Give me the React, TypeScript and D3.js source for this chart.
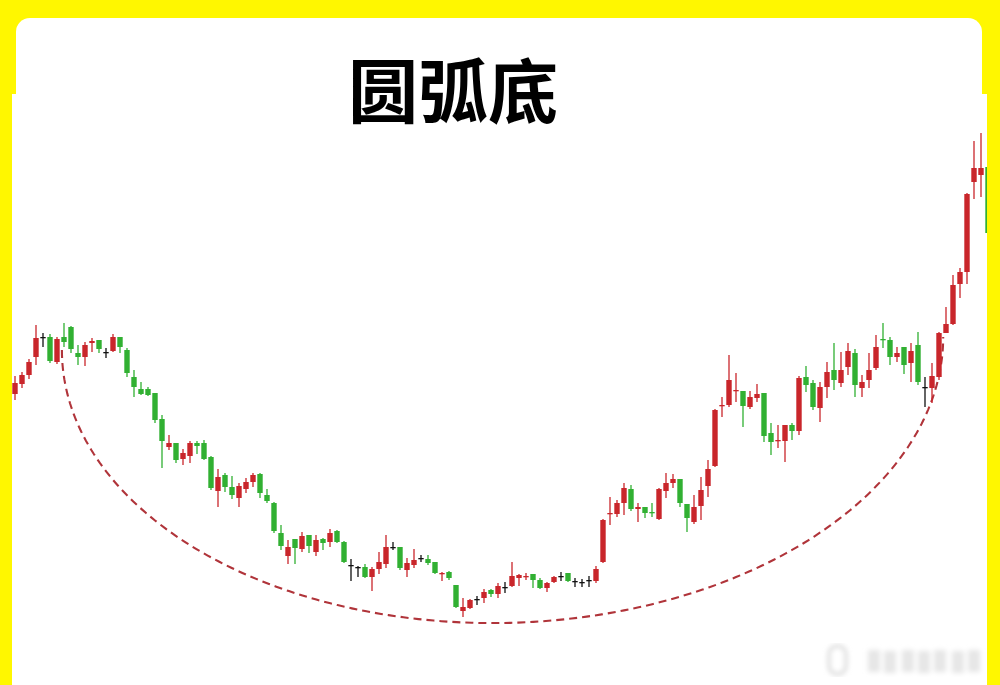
import React, { useEffect, useRef } from "react";
import * as d3 from "d3";

// [open, high, low, close] per session
const candles: [number, number, number, number][] = [
  [30.6, 32.4, 30.0, 31.7], [31.6, 32.8, 31.2, 32.5], [32.5, 34.1, 32.1, 33.8], [34.3, 37.5, 33.5, 36.2],
  [36.3, 36.7, 35.3, 36.3], [36.3, 36.6, 33.7, 33.9], [33.8, 36.3, 33.6, 36.1], [36.3, 37.7, 35.3, 35.8],
  [37.3, 37.4, 34.7, 35.1], [34.7, 35.5, 33.5, 34.3], [34.3, 35.8, 33.4, 35.5], [35.7, 36.2, 34.8, 35.9],
  [36.0, 36.0, 34.7, 35.1], [34.8, 35.2, 34.2, 34.8], [34.9, 36.6, 34.8, 36.3], [36.3, 36.3, 34.7, 35.3],
  [35.0, 35.2, 32.3, 32.7], [32.3, 33.0, 30.3, 31.3], [31.1, 31.8, 30.5, 30.6], [31.1, 31.3, 30.4, 30.5],
  [30.7, 30.7, 27.7, 28.0], [28.1, 28.5, 23.2, 25.9], [25.3, 26.5, 25.0, 25.7], [25.7, 25.7, 23.7, 24.0],
  [24.1, 25.1, 23.5, 24.7], [24.4, 25.9, 23.7, 25.7], [25.7, 25.9, 24.6, 25.4], [25.7, 26.0, 24.0, 24.1],
  [24.3, 24.4, 21.0, 21.2], [20.9, 23.1, 19.3, 22.3], [22.5, 22.7, 20.8, 21.3], [21.3, 22.4, 20.1, 20.5],
  [20.2, 21.7, 19.3, 21.4], [21.1, 22.2, 20.7, 21.8], [21.8, 22.7, 21.3, 22.5], [22.6, 22.7, 20.2, 20.7],
  [20.5, 21.1, 19.7, 19.9], [19.7, 19.8, 16.7, 16.9], [16.7, 17.5, 15.0, 15.4], [14.4, 16.0, 13.6, 15.3],
  [16.1, 16.1, 13.6, 15.2], [15.1, 16.8, 14.8, 16.4], [16.5, 16.5, 14.7, 15.4], [14.8, 16.5, 14.4, 16.0],
  [16.1, 16.2, 15.0, 15.7], [15.8, 17.1, 15.3, 16.7], [16.9, 17.0, 15.7, 15.8], [15.8, 15.9, 13.7, 13.8],
  [13.5, 14.1, 11.9, 13.5], [13.3, 13.4, 12.3, 13.3], [13.3, 13.6, 12.2, 12.3], [12.3, 13.3, 10.9, 13.1],
  [13.1, 14.8, 12.6, 13.8], [13.6, 16.5, 13.2, 15.3], [15.3, 15.8, 15.0, 15.3], [15.3, 15.3, 13.0, 13.2],
  [13.0, 14.2, 12.3, 13.7], [13.5, 15.1, 13.2, 14.0], [14.2, 14.5, 13.8, 14.2], [14.1, 14.5, 13.5, 13.7],
  [13.8, 13.8, 12.6, 12.7], [12.6, 12.8, 11.9, 12.7], [12.8, 12.9, 12.0, 12.2], [11.5, 11.5, 9.2, 9.3],
  [8.9, 10.2, 8.3, 9.3], [9.2, 10.1, 9.1, 10.0], [10.1, 10.4, 9.5, 10.1], [10.2, 11.1, 9.7, 10.8],
  [11.0, 11.1, 10.3, 10.6], [10.6, 11.7, 10.2, 11.4], [11.3, 11.8, 10.7, 11.3], [11.4, 13.8, 11.3, 12.4],
  [12.2, 12.6, 11.4, 12.5], [12.3, 12.7, 12.0, 12.4], [12.6, 12.6, 11.2, 12.0], [12.0, 12.2, 11.1, 11.2],
  [11.2, 11.8, 10.8, 11.7], [11.8, 12.4, 11.7, 12.3], [12.4, 12.8, 11.9, 12.4], [12.7, 12.7, 11.8, 11.9],
  [11.9, 12.2, 11.3, 11.9], [11.8, 12.1, 11.3, 11.8], [12.0, 12.4, 11.3, 12.0], [11.9, 13.4, 11.7, 13.1],
  [13.8, 18.1, 13.7, 18.0], [18.6, 20.3, 17.5, 18.7], [18.6, 20.0, 18.3, 19.7], [19.7, 21.7, 18.5, 21.2],
  [21.1, 21.5, 18.9, 19.1], [19.1, 19.7, 17.8, 19.3], [19.3, 19.3, 18.2, 18.7], [18.8, 19.7, 18.3, 18.7],
  [18.1, 21.2, 18.0, 21.1], [20.9, 22.7, 20.2, 21.7], [21.7, 22.6, 21.2, 22.1], [22.1, 22.1, 19.3, 19.7],
  [19.6, 19.6, 16.8, 18.2], [17.8, 20.5, 17.6, 19.3], [19.4, 22.3, 18.0, 21.0], [21.4, 24.0, 20.3, 23.1],
  [23.4, 29.1, 23.3, 29.0], [29.4, 30.3, 28.3, 29.5], [29.5, 34.5, 29.3, 32.0], [30.9, 32.7, 29.8, 31.0],
  [30.9, 30.9, 27.3, 29.4], [29.3, 30.9, 29.1, 30.3], [30.2, 31.6, 29.8, 30.6], [30.7, 30.7, 25.8, 26.4],
  [26.7, 27.7, 24.5, 25.8], [25.9, 27.5, 25.2, 26.0], [25.9, 27.5, 23.8, 27.5], [27.5, 27.7, 26.0, 26.9],
  [26.9, 32.4, 26.5, 32.2], [32.3, 33.4, 30.8, 31.5], [31.7, 32.0, 29.0, 29.3], [29.2, 31.8, 27.8, 31.3],
  [31.3, 33.8, 30.2, 32.8], [33.0, 35.7, 31.0, 32.0], [31.7, 34.8, 31.3, 33.0], [33.3, 35.7, 32.5, 34.9],
  [34.7, 35.1, 30.3, 31.5], [31.2, 32.5, 30.3, 31.8], [32.0, 34.7, 31.2, 33.0], [33.2, 36.5, 33.0, 35.3],
  [36.1, 37.7, 35.2, 36.0], [36.0, 36.3, 33.5, 34.3], [34.3, 35.3, 33.8, 34.7], [35.3, 35.3, 32.6, 33.5],
  [33.7, 35.7, 31.8, 34.9], [35.5, 36.8, 31.5, 31.8], [31.3, 32.3, 29.3, 31.3], [31.2, 33.7, 29.7, 32.4],
  [32.3, 36.8, 32.0, 36.7], [36.7, 39.3, 36.7, 37.6], [37.6, 42.5, 37.5, 41.5], [41.6, 43.2, 40.2, 42.8],
  [42.8, 50.7, 41.6, 50.6], [51.8, 55.9, 50.1, 53.2], [52.5, 56.7, 50.3, 53.2], [53.3, 53.3, 46.7, 46.7],
];

// dashed arc: left end, right end (session index, price) and lowest price
const arcLeft: [number, number] = [6.7, 35.0];
const arcRight: [number, number] = [132.6, 36.3];
const arcBottom = 7.7;

const title = "圆弧底";

const UP = "#c9262b";
const DOWN = "#31b032";
const FLAT = "#111111";

const App: React.FC = () => {
  const svgRef = useRef<SVGSVGElement>(null);
  const width = 1000;
  const height = 685;

  useEffect(() => {
    if (!svgRef.current) return;
    const svg = d3.select(svgRef.current);
    svg.selectAll("*").remove();

    const xScale = d3.scaleLinear().domain([0, candles.length - 1]).range([15, 988]);
    const yScale = d3.scaleLinear().domain([0, 60]).range([700, 100]);

    // background
    svg.append("rect").attr("width", width).attr("height", height).attr("fill", "#fff700");
    svg.append("rect").attr("x", 16).attr("y", 18).attr("width", 966).attr("height", 140)
      .attr("rx", 14).attr("fill", "#ffffff");
    svg.append("rect").attr("x", 12).attr("y", 94).attr("width", 975).attr("height", height - 94)
      .attr("fill", "#ffffff");

    svg.append("text")
      .attr("x", 453).attr("y", 118)
      .attr("text-anchor", "middle")
      .attr("font-family", "'Noto Sans CJK SC', 'Noto Sans', sans-serif")
      .attr("font-weight", 700)
      .attr("font-size", 70)
      .attr("fill", "#000")
      .text(title);

    const defs = svg.append("defs");
    defs.append("clipPath").attr("id", "plot-clip")
      .append("rect").attr("x", 12).attr("y", 94).attr("width", 975).attr("height", 591);
    defs.append("filter").attr("id", "blur").append("feGaussianBlur").attr("stdDeviation", 2.6);

    const g = svg.append("g").attr("clip-path", "url(#plot-clip)");

    // arc (elliptical, through both ends and the bottom)
    const xl = xScale(arcLeft[0]);
    const xr = xScale(arcRight[0]);
    const yl = yScale(arcLeft[1]);
    const yr = yScale(arcRight[1]);
    const depth = yScale(arcBottom) - (yl + yr) / 2;
    const arcPts: [number, number][] = d3.range(0, 181).map((k) => {
      const th = (k / 180) * Math.PI;
      const u = (1 - Math.cos(th)) / 2;
      return [xl + (xr - xl) * u, yl + (yr - yl) * u + depth * Math.sin(th)];
    });
    g.append("path")
      .attr("d", d3.line()(arcPts))
      .attr("fill", "none")
      .attr("stroke", "#b0343a")
      .attr("stroke-width", 2.1)
      .attr("stroke-dasharray", "8,5");

    const bodyW = 5.4;
    const color = (d: [number, number, number, number]) =>
      d[3] > d[0] ? UP : d[3] < d[0] ? DOWN : FLAT;

    const c = g.selectAll("g.candle").data(candles).enter().append("g").attr("class", "candle");

    c.append("line")
      .attr("x1", (_, i) => xScale(i)).attr("x2", (_, i) => xScale(i))
      .attr("y1", (d) => yScale(d[1])).attr("y2", (d) => yScale(d[2]))
      .attr("stroke", color)
      .attr("stroke-width", 1.3);

    c.append("rect")
      .attr("x", (_, i) => xScale(i) - bodyW / 2)
      .attr("y", (d) => yScale(Math.max(d[0], d[3])))
      .attr("width", bodyW)
      .attr("height", (d) => Math.max(1.3, Math.abs(yScale(d[0]) - yScale(d[3]))))
      .attr("fill", color);

    // watermark (blurred)
    const wm = svg.append("g").attr("filter", "url(#blur)").attr("fill", "#dedede");
    wm.append("rect").attr("x", 829).attr("y", 646).attr("width", 17).attr("height", 28).attr("rx", 8)
      .attr("fill", "none").attr("stroke", "#d8d8d8").attr("stroke-width", 3);
    [868, 884, 902, 918, 934, 952, 968].forEach((x, i) => {
      wm.append("rect").attr("x", x).attr("y", 650 + (i % 2))
        .attr("width", 12).attr("height", 22).attr("opacity", 0.75);
    });
  }, []);

  return (
    <svg
      ref={svgRef}
      width={width}
      height={height}
      style={{ position: "absolute", left: 0, top: 0 }}
    />
  );
};

export default App;
